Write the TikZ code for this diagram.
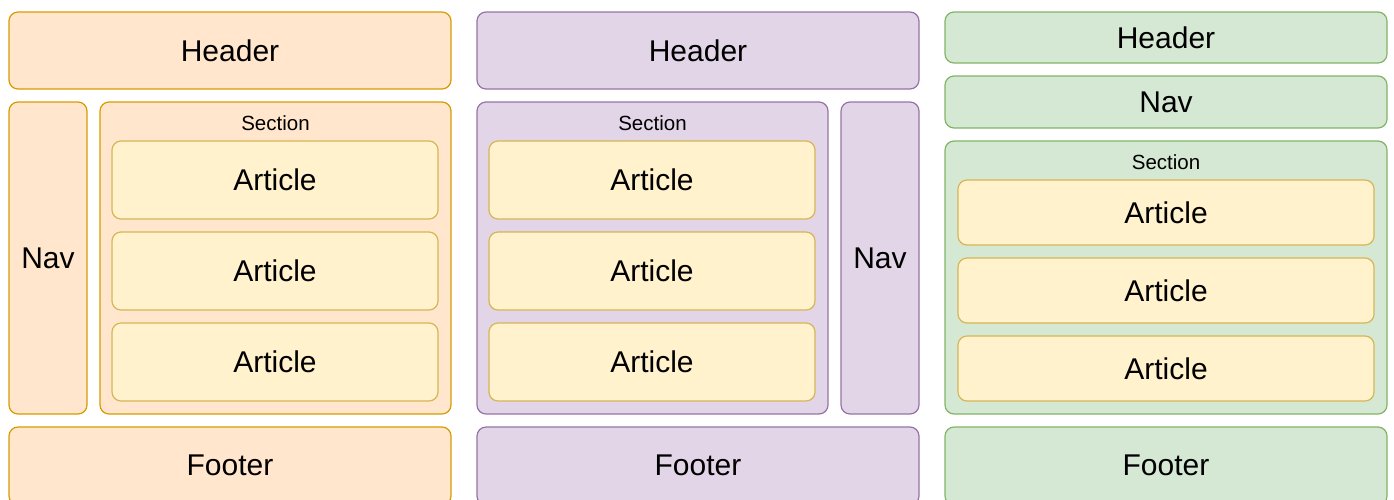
\documentclass[tikz,border=0pt]{standalone}
\usepackage{fontspec}
\setmainfont{Liberation Sans}
\definecolor{ofill}{HTML}{FFE6CC}\definecolor{oline}{HTML}{D79B00}
\definecolor{pfill}{HTML}{E1D5E7}\definecolor{pline}{HTML}{9673A6}
\definecolor{gfill}{HTML}{D5E8D4}\definecolor{gline}{HTML}{82B366}
\definecolor{yfill}{HTML}{FFF2CC}\definecolor{yline}{HTML}{D6B656}
\tikzset{
  box/.style={rounded corners=9pt, line width=1.2pt},
  ob/.style={box, fill=ofill, draw=oline},
  pb/.style={box, fill=pfill, draw=pline},
  gb/.style={box, fill=gfill, draw=gline},
  yb/.style={box, fill=yfill, draw=yline},
  lbl/.style={font=\fontsize{20.5}{24}\selectfont, inner sep=0pt},
  big/.style={font=\fontsize{30}{34}\selectfont, inner sep=0pt}
}
\newcommand{\bx}[6]{% style, name, x1, y1, x2, y2
  \draw[#1] (#3,#4) rectangle (#5,#6);
  \coordinate (#2) at ({(#3+#5)/2},{(#4+#6)/2});}
\begin{document}
\begin{tikzpicture}[x=1pt,y=-1pt]
\useasboundingbox (0,0) rectangle (1394,499);
\clip (0,0) rectangle (1394,499);
% Column 1
\bx{ob}{h1}{9}{12}{451}{89}
\node[big] (th1) at (h1) {Header};
\bx{ob}{n1}{9}{102}{87}{414}
\node[big] (tn1) at (n1) {Nav};
\bx{ob}{s1}{100}{102}{451}{414}
\node[lbl] (ts1) at (275.5,123) {Section};
\bx{yb}{a11}{112}{141}{438}{219}
\node[big] (ta11) at (a11) {Article};
\bx{yb}{a12}{112}{232}{438}{310}
\node[big] (ta12) at (a12) {Article};
\bx{yb}{a13}{112}{323}{438}{401}
\node[big] (ta13) at (a13) {Article};
\bx{ob}{f1}{9}{427}{451}{505}
\node[big] (tf1) at (230,465) {Footer};
% Column 2
\bx{pb}{h2}{477}{12}{919}{89}
\node[big] (th2) at (h2) {Header};
\bx{pb}{s2}{477}{102}{828}{414}
\node[lbl] (ts2) at (652.5,123) {Section};
\bx{yb}{a21}{489}{141}{815}{219}
\node[big] (ta21) at (a21) {Article};
\bx{yb}{a22}{489}{232}{815}{310}
\node[big] (ta22) at (a22) {Article};
\bx{yb}{a23}{489}{323}{815}{401}
\node[big] (ta23) at (a23) {Article};
\bx{pb}{n2}{841}{102}{919}{414}
\node[big] (tn2) at (n2) {Nav};
\bx{pb}{f2}{477}{427}{919}{505}
\node[big] (tf2) at (698,465) {Footer};
% Column 3
\bx{gb}{h3}{945}{12}{1387}{63}
\node[big] (th3) at (h3) {Header};
\bx{gb}{n3}{945}{76}{1387}{128}
\node[big] (tn3) at (n3) {Nav};
\bx{gb}{s3}{945}{141}{1387}{414}
\node[lbl] (ts3) at (1166,162) {Section};
\bx{yb}{a31}{958}{180}{1374}{245}
\node[big] (ta31) at (a31) {Article};
\bx{yb}{a32}{958}{258}{1374}{323}
\node[big] (ta32) at (a32) {Article};
\bx{yb}{a33}{958}{336}{1374}{401}
\node[big] (ta33) at (a33) {Article};
\bx{gb}{f3}{945}{427}{1387}{505}
\node[big] (tf3) at (1166,465) {Footer};
\end{tikzpicture}
\end{document}
